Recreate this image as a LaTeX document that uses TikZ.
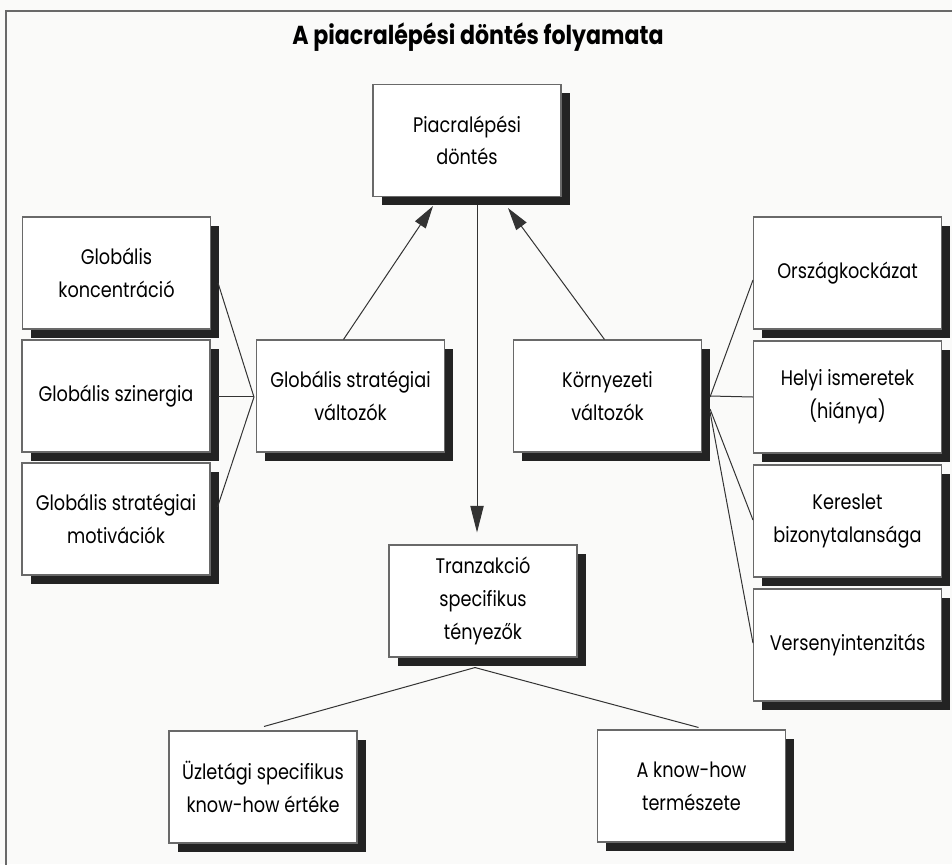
\documentclass[tikz,border=0pt]{standalone}
\usepackage{fontspec}
\usetikzlibrary{shadows,calc,arrows.meta}
\newfontfamily\bodyfont[FakeStretch=0.84]{Poppins}
\newfontfamily\titlefont[FakeStretch=0.85]{Poppins}
\definecolor{paper}{RGB}{250,250,249}
\definecolor{shade}{RGB}{35,35,35}
\definecolor{edge}{RGB}{105,105,105}
\tikzset{
  box/.style={draw=edge, line width=0.8pt, fill=white, minimum width=141pt, minimum height=84pt,
    inner sep=0pt, align=center, text=black,
    font=\bodyfont\fontsize{15.8}{24.5}\selectfont,
    drop shadow={shadow xshift=6.5pt, shadow yshift=-6.5pt, fill=shade, opacity=1}},
  link/.style={draw=black!80, line width=0.75pt},
  arr/.style={link, -{Triangle[length=17pt, width=9.5pt]}},
}
\begin{document}
\begin{tikzpicture}[x=0.75pt, y=-0.75pt]
\useasboundingbox (0,0) rectangle (952,864);
\clip (0,0) rectangle (952,864);
\fill[paper] (0,0) rectangle (952,864);
\draw[edge, line width=1.2pt] (6,11) rectangle (1000,920);
\node[font=\titlefont\bfseries\fontsize{19.5}{22}\selectfont] (title) at (478,37) {A piacralépési döntés folyamata};

\node[box] (top) at (467,140.5) {Piacralépési\\döntés};
\node[box] (gk) at (116.5,273) {Globális\\koncentráció};
\node[box] (gsz) at (116,396) {Globális szinergia};
\node[box] (gsm) at (116,519) {Globális stratégiai\\motivációk};
\node[box] (gsv) at (350.5,396) {Globális stratégiai\\változók};
\node[box] (kv) at (607.5,396) {Környezeti\\változók};
\node[box] (ok) at (847.5,273) {Országkockázat};
\node[box] (hi) at (847.5,397) {Helyi ismeretek\\(hiánya)};
\node[box] (kb) at (847.5,521) {Kereslet\\bizonytalansága};
\node[box] (vi) at (847.5,645) {Versenyintenzitás};
\node[box] (ts) at (483,601) {Tranzakció\\specifikus\\tényezők};
\node[box] (us) at (263,787) {Üzletági specifikus\\know-how értéke};
\node[box] (ak) at (691.5,786) {A know-how\\természete};

% left group
\draw[link] ($(gk.east)+(7,10)$) -- ($(gsv.west)+(-2,1)$);
\draw[link] ($(gsz.east)+(7,0)$) -- ($(gsv.west)+(-2,0)$);
\draw[link] ($(gsm.east)+(7,-12)$) -- ($(gsv.west)+(-2,1)$);
% right group
\draw[link] ($(kv.east)+(8,1)$) -- ($(ok.west)+(0,7)$);
\draw[link] ($(kv.east)+(8,0)$) -- (hi.west);
\draw[link] ($(kv.east)+(8,13)$) -- ($(kb.west)+(0,-1)$);
\draw[link] ($(kv.east)+(8,16)$) -- ($(vi.west)+(0,-2)$);
% arrows to decision
\draw[arr] ($(gsv.north)+(-7,0)$) -- ($(top.south)+(-34,9)$);
\draw[arr] ($(kv.north)+(-3,0)$) -- ($(top.south)+(41,11)$);
\draw[link, -{Triangle[length=20pt, width=10pt]}] ($(top.south)+(10,8)$) -- ($(ts.north)+(-6,-12)$);
% bottom
\draw[link] ($(ts.south)+(-8,10)$) -- ($(us.north)+(1,-4)$);
\draw[link] ($(ts.south)+(-8,10)$) -- ($(ak.north)+(7,-2)$);
\end{tikzpicture}
\end{document}
